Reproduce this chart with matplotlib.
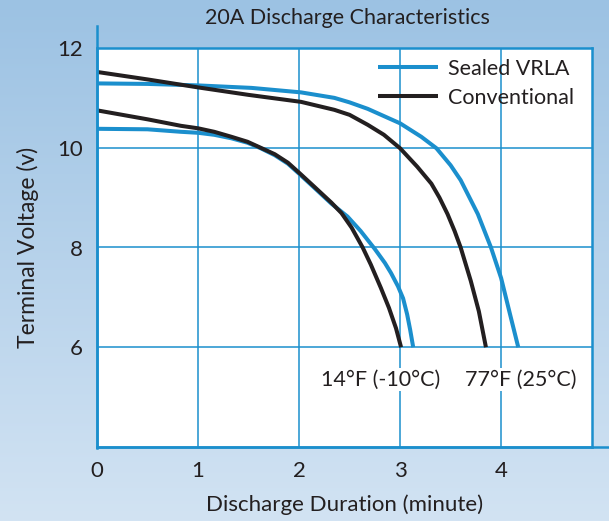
import numpy as np
import matplotlib.pyplot as plt
from matplotlib.colors import LinearSegmentedColormap
from matplotlib.lines import Line2D

# Values (minutes, volts)
sealed_77_x = [0, 0.5, 1.0, 1.53, 2.02, 2.35, 2.5, 2.68, 3.0, 3.21, 3.36, 3.5, 3.6, 3.7, 3.77, 3.9, 4.0, 4.09, 4.17]
sealed_77_v = [11.29, 11.28, 11.25, 11.2, 11.11, 11.0, 10.91, 10.78, 10.49, 10.22, 9.99, 9.65, 9.35, 8.95, 8.67, 8.0, 7.39, 6.65, 6.0]

conv_77_x = [0, 0.5, 1.0, 1.5, 2.02, 2.35, 2.5, 2.68, 2.84, 3.0, 3.17, 3.31, 3.39, 3.47, 3.54, 3.6, 3.7, 3.78, 3.85]
conv_77_v = [11.52, 11.37, 11.21, 11.06, 10.92, 10.76, 10.66, 10.46, 10.26, 9.99, 9.62, 9.28, 9.0, 8.67, 8.33, 8.0, 7.33, 6.72, 6.0]

sealed_14_x = [0, 0.5, 0.83, 1.0, 1.16, 1.33, 1.49, 1.62, 1.76, 1.89, 2.0, 2.15, 2.32, 2.48,
               2.61, 2.75, 2.85, 2.91, 2.98, 3.03, 3.07, 3.1, 3.13]
sealed_14_v = [10.38, 10.37, 10.32, 10.3, 10.26, 10.19, 10.1, 9.99, 9.85, 9.68, 9.48, 9.2, 8.88, 8.62,
               8.33, 7.97, 7.69, 7.49, 7.22, 6.98, 6.66, 6.35, 6.0]

conv_14_x = [0, 0.5, 0.83, 1.0, 1.16, 1.33, 1.49, 1.62, 1.76, 1.89, 2.0, 2.15, 2.32, 2.42,
             2.52, 2.63, 2.71, 2.81, 2.89, 2.96, 3.01]
conv_14_v = [10.75, 10.57, 10.44, 10.39, 10.32, 10.22, 10.12, 10.0, 9.87, 9.7, 9.5, 9.22, 8.9, 8.69,
             8.4, 8.0, 7.66, 7.19, 6.79, 6.38, 6.0]

x_ticks = [0, 1, 2, 3, 4]
y_ticks = [6, 8, 10, 12]
temp_labels = ["14°F (-10°C)", "77°F (25°C)"]
temp_label_x = [2.81, 4.19]
temp_label_v = [5.35, 5.35]

BLUE = '#1b8fcd'
DARK = '#231f20'

plt.rcParams['font.family'] = ['Lato', 'DejaVu Sans']

fig = plt.figure(figsize=(6.09, 5.21), dpi=100)

# gradient background
bg = fig.add_axes([0, 0, 1, 1], zorder=-10)
cmap = LinearSegmentedColormap.from_list('bg', ['#9cc2e3', '#d2e3f3'])
grad = np.linspace(0, 1, 256).reshape(-1, 1)
bg.imshow(grad, aspect='auto', cmap=cmap, extent=[0, 1, 0, 1])
bg.axis('off')

ax = fig.add_axes([97 / 609, 74 / 521, 495 / 609, 399 / 521])
ax.set_facecolor('white')

kw = dict(lw=2.9, solid_capstyle='butt', solid_joinstyle='round')
ax.plot(sealed_77_x, sealed_77_v, color=BLUE, label='Sealed VRLA', **kw)
ax.plot(conv_77_x, conv_77_v, color=DARK, label='Conventional', **kw)
ax.plot(sealed_14_x, sealed_14_v, color=BLUE, **kw)
ax.plot(conv_14_x, conv_14_v, color=DARK, **kw)

for lbl, tx, tv in zip(temp_labels, temp_label_x, temp_label_v):
    ax.text(tx, tv, lbl, ha='center', va='center', fontsize=15.5, color=DARK,
            bbox=dict(facecolor='white', edgecolor='none', pad=1))

ax.set_xlim(0, 4.9)
ax.set_ylim(4, 12)
ax.set_xticks(x_ticks)
ax.set_yticks(y_ticks)
ax.grid(True, color=BLUE, lw=1.1)
ax.set_axisbelow(True)
ax.tick_params(length=0, labelsize=16, labelcolor=DARK)
ax.tick_params(axis='x', pad=10)
ax.tick_params(axis='y', pad=10)
for s in ax.spines.values():
    s.set_color(BLUE)
    s.set_linewidth(1.8)

ax.set_xlabel('Discharge Duration (minute)', fontsize=16, color=DARK, labelpad=10)
ax.set_ylabel('Terminal Voltage (v)', fontsize=16.5, color=DARK, labelpad=13)
fig.text(347 / 609, 0.965, '20A Discharge Characteristics', ha='center', va='center',
         fontsize=15.5, color=DARK)

# axis lines that run past the plot box
fig.add_artist(Line2D([97 / 609, 97 / 609], [73 / 521, 495 / 521], color=BLUE, lw=1.8))
fig.add_artist(Line2D([97 / 609, 1.0], [74 / 521, 74 / 521], color=BLUE, lw=1.8))

ax.legend(loc='upper right', bbox_to_anchor=(1 - 7 / 495, 1.0), frameon=False, fontsize=15.5,
          handlelength=2.8, handletextpad=0.47, labelspacing=0.42, borderaxespad=0.1,
          labelcolor=DARK)

fig.savefig('out.png', dpi=100)
